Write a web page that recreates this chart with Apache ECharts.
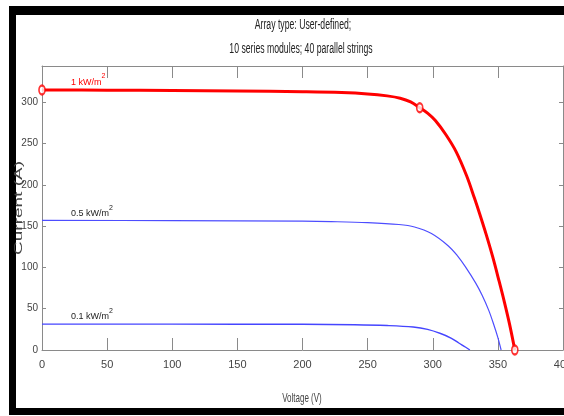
<!DOCTYPE html>
<html><head><meta charset="utf-8">
<script src="https://cdn.jsdelivr.net/npm/echarts@6/dist/echarts.min.js"></script>
<style>html,body{margin:0;padding:0;background:#fff}#c{width:564px;height:416px}</style>
</head><body><div id="c"></div>
<script>
// ---- data ----
const voltageTicks = [0, 50, 100, 150, 200, 250, 300, 350, 400];
const currentTicks = [0, 50, 100, 150, 200, 250, 300];

// 1 kW/m^2
const v1 = [0, 50, 100, 150, 200, 230, 250, 265, 275, 283, 290, 296, 302, 310, 318, 326, 332, 336, 341, 346, 351, 355, 359, 363];
const i1 = [315, 314.7, 314.3, 313.8, 312.8, 311.8, 310.2, 307.8, 305, 300.5, 293.5, 287, 278, 261, 240, 211, 184, 165, 140, 113, 83, 58, 31, 0];
// 0.5 kW/m^2
const v05 = [0, 100, 200, 222, 250, 274, 286, 299, 312, 319, 325, 333, 338, 343, 347, 350, 352.5];
const i05 = [157, 156.7, 156, 155.5, 154.3, 152, 149, 141, 126, 114, 101, 81, 66, 48, 30, 15, 0];
// 0.1 kW/m^2
const v01 = [0, 100, 200, 240, 265, 285, 296, 306, 314, 320, 325, 328.5];
const i01 = [31.4, 31.3, 31.1, 30.6, 29.6, 27.8, 25, 20, 14.5, 8.5, 3.6, 0];
// marked points on the 1 kW/m^2 curve (Isc, MPP, Voc)
const markV = [0, 290, 363];
const markI = [315, 293.5, 0];

const seriesNames = ['1 kW/m', '0.5 kW/m', '0.1 kW/m'];

// ---- build ----
const zip = (a, b) => a.map((x, k) => [x, b[k]]);
const sans = "'Liberation Sans', Arial, sans-serif";
const axisGray = '#8a8a8a';

function curveLabel(text, color, dy, anchor) {
  return {
    symbol: 'circle', symbolSize: 0, silent: true,
    data: [{ coord: anchor, label: {
      show: true, position: 'right', distance: 0, offset: [29, dy],
      formatter: '{t|' + text + '}{s|2}',
      rich: {
        t: { fontFamily: sans, fontSize: 9, color: color, verticalAlign: 'bottom', lineHeight: 14 },
        s: { fontFamily: sans, fontSize: 7, color: color, verticalAlign: 'top', lineHeight: 14 }
      }
    } }]
  };
}

const chart = echarts.init(document.getElementById('c'));
chart.setOption({
  backgroundColor: '#fff',
  animation: false,
  grid: { left: 42, right: 1, top: 66, bottom: 66, containLabel: false, outerBoundsMode: 'none' },
  xAxis: [{
    type: 'value', min: 0, max: 400, interval: 50,
    axisLine: { lineStyle: { color: axisGray, width: 1 } },
    axisTick: { inside: true, length: 12, lineStyle: { color: axisGray } },
    axisLabel: { fontFamily: sans, fontSize: 11, color: '#444', margin: 9 },
    splitLine: { show: false }
  }, {
    type: 'value', min: 0, max: 400, interval: 50, position: 'top',
    axisLine: { show: true, onZero: false, lineStyle: { color: axisGray, width: 1 } },
    axisTick: { show: true, inside: true, length: 12, lineStyle: { color: axisGray } },
    axisLabel: { show: false }, splitLine: { show: false }
  }],
  yAxis: [{
    type: 'value', min: 0, max: 344, interval: 50,
    axisLine: { show: true, lineStyle: { color: axisGray, width: 1 } },
    axisTick: { show: true, inside: true, length: 4, customValues: currentTicks, lineStyle: { color: axisGray } },
    axisLabel: { fontFamily: sans, fontSize: 10, color: '#444', margin: 4, customValues: currentTicks },
    splitLine: { show: false }
  }, {
    type: 'value', min: 0, max: 344, interval: 50, position: 'right',
    axisLine: { show: true, onZero: false, lineStyle: { color: axisGray, width: 1 } },
    axisTick: { show: true, inside: true, length: 4, customValues: currentTicks, lineStyle: { color: axisGray } },
    axisLabel: { show: false }, splitLine: { show: false }
  }],
  series: [{
    name: seriesNames[2], type: 'line', data: zip(v01, i01), showSymbol: false,
    smooth: 0.35,
    lineStyle: { color: '#4545ff', width: 1.4 },
    markPoint: curveLabel(seriesNames[2], '#222', -10, [0, i01[0]])
  }, {
    name: seriesNames[1], type: 'line', data: zip(v05, i05), showSymbol: false,
    smooth: 0.35,
    lineStyle: { color: '#4d4dff', width: 1.2 },
    markPoint: curveLabel(seriesNames[1], '#222', -9, [0, i05[0]])
  }, {
    name: seriesNames[0], type: 'line', data: zip(v1, i1), showSymbol: false,
    smooth: 0.35,
    lineStyle: { color: '#ff0000', width: 3 },
    markPoint: curveLabel(seriesNames[0], '#ff0000', -10, [0, i1[0]])
  }, {
    type: 'scatter', data: zip(markV, markI), symbol: 'emptyCircle', symbolSize: [6, 9],
    itemStyle: { color: '#ff0000', borderColor: '#ff0000', borderWidth: 1.5 }, z: 5
  }],
  graphic: [
    { type: 'rect', shape: { x: 9, y: 6, width: 555, height: 9 }, style: { fill: '#000' } },
    { type: 'rect', shape: { x: 9, y: 6, width: 7, height: 409 }, style: { fill: '#000' } },
    { type: 'rect', shape: { x: 9, y: 408, width: 555, height: 7 }, style: { fill: '#000' } },
    { type: 'text', x: 303, y: 25, scaleX: 0.62, style: { text: 'Array type: User-defined;', font: '14px ' + sans, fill: '#222', align: 'center', verticalAlign: 'middle' } },
    { type: 'text', x: 301, y: 49, scaleX: 0.62, style: { text: '10 series modules; 40 parallel strings', font: '14px ' + sans, fill: '#222', align: 'center', verticalAlign: 'middle' } },
    { type: 'text', x: 302, y: 398, scaleX: 0.615, style: { text: 'Voltage (V)', font: '13px ' + sans, fill: '#444', align: 'center', verticalAlign: 'middle' } },
    { type: 'text', x: 19, y: 208, rotation: Math.PI / 2, scaleY: 0.55, style: { text: 'Current (A)', font: '19px ' + sans, fill: '#444', align: 'center', verticalAlign: 'middle' } }
  ]
});
</script>
</body></html>
